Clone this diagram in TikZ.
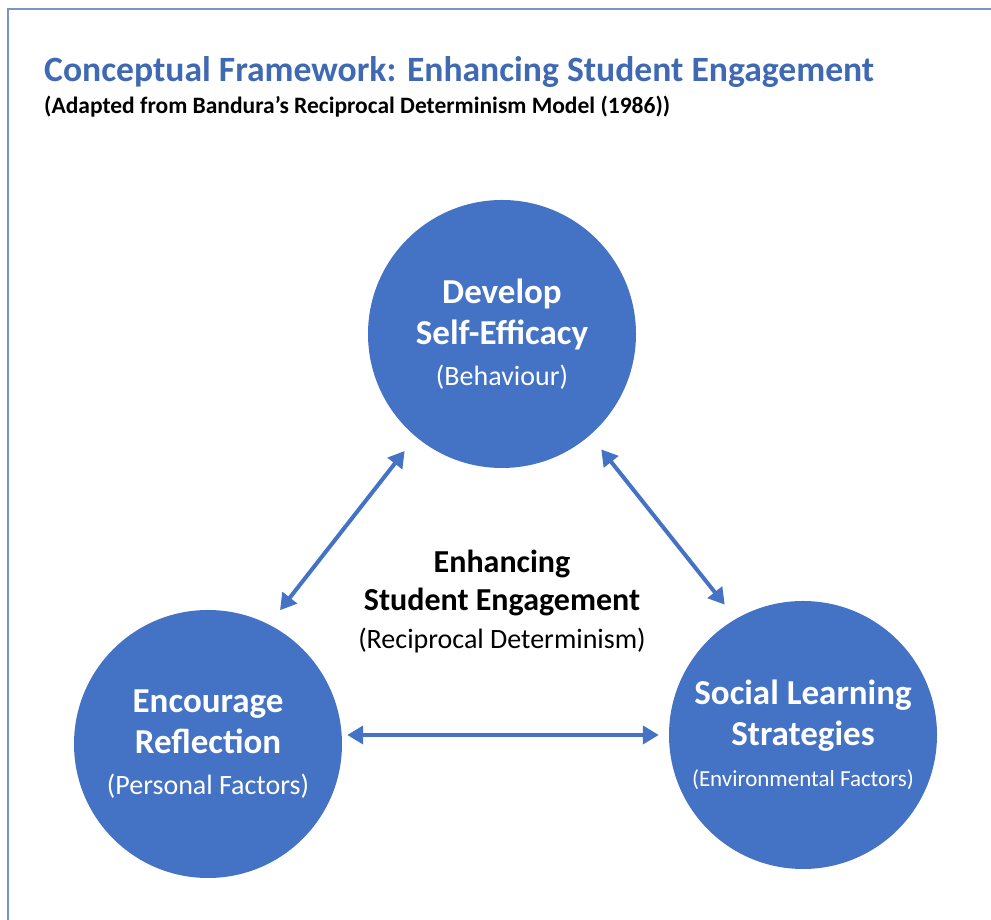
\documentclass[tikz,border=0pt]{standalone}
\usepackage{fontspec}
\setmainfont{Carlito}
\usetikzlibrary{arrows.meta,positioning}
\definecolor{officeblue}{HTML}{4472C4}
\definecolor{titleblue}{HTML}{3F69B2}
\definecolor{framegray}{HTML}{7C94C4}
\newcommand{\smalltext}[1]{\mdseries\fontsize{#1}{28}\selectfont}
\begin{document}
\begin{tikzpicture}[x=1pt,y=1pt,
  factor/.style={circle,fill=officeblue,minimum size=268pt,inner sep=0pt,text=white,align=center,font=\bfseries\fontsize{35}{41}\selectfont},
  biarrow/.style={{Triangle[length=16pt,width=18pt]}-{Triangle[length=16pt,width=18pt]},line width=4pt,draw=officeblue}]
\useasboundingbox (0,0) rectangle (991,920);
% frame
\draw[framegray,line width=2pt] (8,0) |- (991,911);
% title
\node[anchor=base west,text=titleblue,font=\bfseries\fontsize{35.6}{40}\selectfont,inner sep=0pt] (title) at (44,838) {Conceptual Framework: Enhancing Student Engagement};
\node[anchor=base west,font=\bfseries\fontsize{23.5}{25}\selectfont,inner sep=0pt] (subtitle) at (44,806) {(Adapted from Bandura’s Reciprocal Determinism Model (1986))};
% the three factors
\node[factor] (beh) at (502,586) {Develop\\Self-Efficacy\\\smalltext{28}(Behaviour)};
\node[factor] (per) at (208,176) {Encourage\\Reflection\\\smalltext{28}(Personal Factors)};
\node[factor] (env) at (803,185) {Social Learning\\Strategies\\\smalltext{23}(Environmental Factors)};
% centre
\node[align=center,font=\bfseries\fontsize{32}{38}\selectfont] (core) at (502,318) {Enhancing\\Student Engagement\\\smalltext{28}(Reciprocal Determinism)};
% arrows
\draw[biarrow,shorten <=18pt,shorten >=18pt] (per.63) -- (beh.230);
\draw[biarrow,shorten <=18pt,shorten >=18pt] (beh.311) -- (env.120);
\draw[biarrow,shorten <=5pt,shorten >=10pt] (per.east |- env.west) -- (env.west);
\end{tikzpicture}
\end{document}
